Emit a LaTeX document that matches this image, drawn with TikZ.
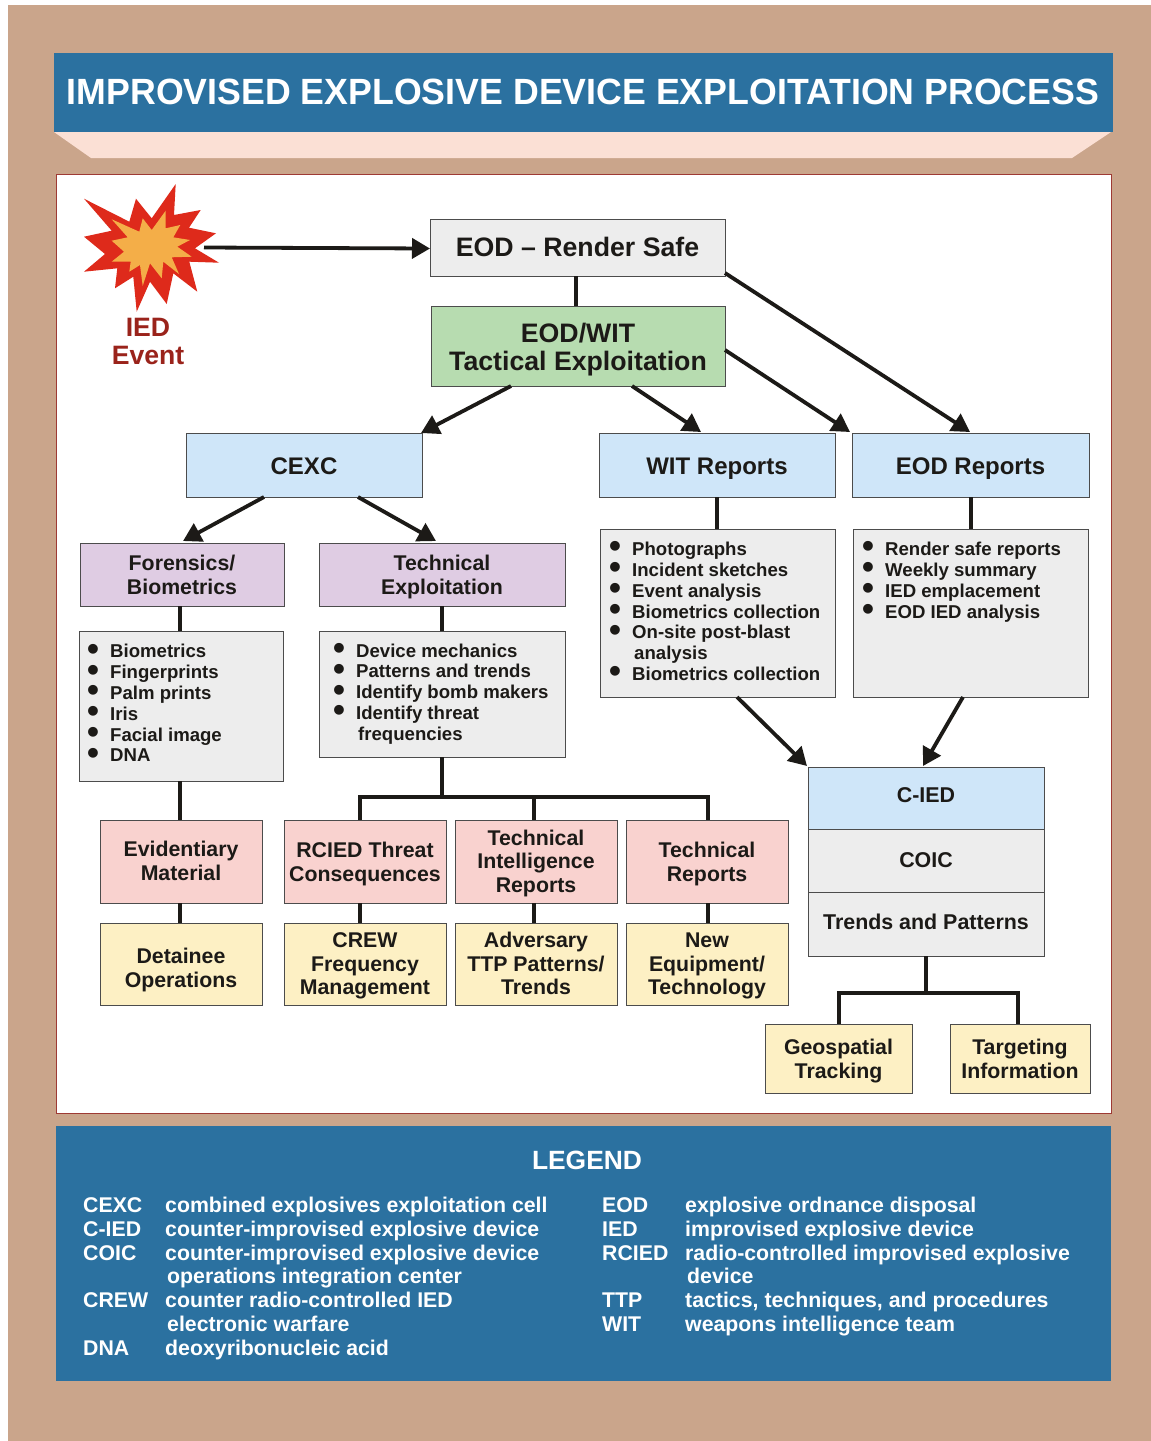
\documentclass[tikz,border=0pt]{standalone}
\usepackage{fontspec}
\setmainfont{Liberation Sans}
\usetikzlibrary{arrows.meta,calc}
\definecolor{tan}{HTML}{CAA58B}
\definecolor{band}{HTML}{2B71A0}
\definecolor{peach}{HTML}{FBE0D5}
\definecolor{frame}{HTML}{9E3A34}
\definecolor{gbox}{HTML}{EDEDED}
\definecolor{green}{HTML}{B7DCB0}
\definecolor{blue}{HTML}{CFE6F9}
\definecolor{purp}{HTML}{DFCCE3}
\definecolor{pink}{HTML}{F9D2CF}
\definecolor{yel}{HTML}{FDF0C4}
\definecolor{ink}{HTML}{1C1A17}
\definecolor{redw}{HTML}{DE2A1B}
\definecolor{oran}{HTML}{F4AE48}
\definecolor{iedt}{HTML}{9A231B}
\newcommand{\fs}[2]{\fontsize{#1pt}{#2pt}\selectfont\bfseries}
\newcommand{\bl}{\makebox[22pt][l]{\hspace*{-1pt}\smash{\raisebox{-2.3pt}{\fontsize{34pt}{34pt}\selectfont\textbullet}}}}
\tikzset{
  x=1pt,y=-1pt,
  lab/.style={font=\fs{24}{24},text=ink,align=center,inner sep=0pt},
  labs/.style={font=\fs{21.3}{23.7},text=ink,align=center,inner sep=0pt},
  labc/.style={font=\fs{21.4}{24},text=ink,align=center,inner sep=0pt},
  labb/.style={font=\fs{26.7}{28},text=ink,align=center,inner sep=0pt},
  lst/.style={font=\fs{18.6}{20.8},text=ink,align=left,inner sep=0pt,anchor=north west},
  lg/.style={font=\fs{21.3}{23.6},text=white,align=left,inner sep=0pt,anchor=base west},
  wire/.style={draw=ink,line width=3.8pt},
  arr/.style={draw=ink,line width=3.8pt,-{Triangle[length=18pt,width=20pt]}},
}
% name x0 y0 x1 y1 colour dy style text
\newcommand{\bxn}[9]{%
  \path[draw=black!70,line width=0.9pt,fill=#6] (#2,#3) rectangle (#4,#5);
  \node[#8] (#1) at ({(#2+#4)/2},{(#3+#5)/2+#7}) {\strut #9\strut};
  \coordinate (#1nw) at (#2,#3);
  \coordinate (#1se) at (#4,#5);
}
\begin{document}
\begin{tikzpicture}
\useasboundingbox (0,0) rectangle (1151,1441);
\fill[white] (0,0) rectangle (1151,1441);
\fill[tan] (8,5) rectangle (1151,1441);
\fill[peach] (54,132) -- (1111,132) -- (1072,158) -- (91,158) -- cycle;
\fill[band] (54,53) rectangle (1113,132);
\node[inner sep=0pt,text=white,font=\fs{36.5}{38}] (title) at (583,92) {\scalebox{0.978}[1]{IMPROVISED EXPLOSIVE DEVICE EXPLOITATION PROCESS}};
\path[fill=white,draw=frame,line width=1pt] (56,174) rectangle (1111,1113);
\path[fill=band] (56,1126) rectangle (1111,1381);
% burst
\fill[redw] (84,198.7)--(129.3,221.7)--(136,198.7)--(151.7,218.3)--(175.7,184)--(174,215)--(200.7,210)--(189,227.7)--(216,233.3)--(195,248.3)--(219,262.7)--(189.3,261.7)--(197.3,291.7)--(173.3,273.3)--(166.7,304)--(150,281.7)--(136.7,311.7)--(133.3,276.7)--(115,288.3)--(117.3,268.3)--(84,271.7)--(105,254)--(84,236.7)--(111.7,230.7)--cycle;
\fill[oran] (111.7,219.3)--(139.3,231.7)--(142.7,218.3)--(151.7,230)--(165.7,210.7)--(165.7,228.3)--(180.3,225)--(173.3,237.3)--(190,240)--(177.3,246.7)--(191.7,256.7)--(171.7,257.3)--(179,274)--(163.3,261.7)--(161.7,278.3)--(150,263.3)--(142.7,286)--(140,265)--(129.3,271.7)--(130.7,261.7)--(111.7,261.7)--(124,251.7)--(111.7,240.7)--(127.7,237.3)--cycle;
\node[font=\fs{26.6}{28},text=iedt,align=center,inner sep=0pt] (ied) at (148,341) {IED\\Event};
\coordinate (burstout) at (204,247.5);
% boxes
\bxn{render}{430}{219}{725}{276}{gbox}{3.6}{labb}{EOD – Render Safe}
\bxn{tact}{431}{306}{725}{386}{green}{5}{labb}{EOD/WIT\\Tactical Exploitation}
\bxn{cexc}{186}{433}{422}{497}{blue}{5}{lab}{CEXC}
\bxn{wit}{599}{433}{835}{497}{blue}{5}{lab}{WIT Reports}
\bxn{eodr}{852}{433}{1089}{497}{blue}{5}{lab}{EOD Reports}
\bxn{foren}{80}{543}{284}{606}{purp}{3}{labs}{Forensics/\\Biometrics}
\bxn{techx}{319}{543}{565}{606}{purp}{3}{labs}{Technical\\Exploitation}
\bxn{lbio}{79}{631}{283}{781}{gbox}{0}{labs}{}
\bxn{ldev}{319}{631}{565}{757}{gbox}{0}{labs}{}
\bxn{lwit}{600}{529}{835}{697}{gbox}{0}{labs}{}
\bxn{leod}{853}{529}{1088}{697}{gbox}{0}{labs}{}
\bxn{cied}{808}{767}{1044}{829}{blue}{0}{labc}{C-IED}
\bxn{coic}{808}{829}{1044}{892}{gbox}{2.5}{labc}{COIC}
\bxn{trend}{808}{892}{1044}{956}{gbox}{1}{labc}{Trends and Patterns}
\bxn{evid}{100}{820}{262}{903}{pink}{2}{labs}{Evidentiary\\Material}
\bxn{rcied}{284}{820}{446}{903}{pink}{3.5}{labs}{RCIED Threat\\Consequences}
\bxn{tir}{455}{820}{617}{903}{pink}{2.5}{labs}{Technical\\Intelligence\\Reports}
\bxn{trep}{626}{820}{788}{903}{pink}{3.5}{labs}{Technical\\Reports}
\bxn{det}{100}{923}{262}{1005}{yel}{6.5}{labs}{Detainee\\Operations}
\bxn{crew}{284}{923}{446}{1005}{yel}{2.5}{labs}{CREW\\Frequency\\Management}
\bxn{adv}{455}{923}{617}{1005}{yel}{2.5}{labs}{Adversary\\TTP Patterns/\\Trends}
\bxn{neweq}{626}{923}{788}{1005}{yel}{2.5}{labs}{New\\Equipment/\\Technology}
\bxn{geo}{765}{1024}{912}{1093}{yel}{3.5}{labs}{Geospatial\\Tracking}
\bxn{targ}{950}{1024}{1090}{1093}{yel}{3.5}{labs}{Targeting\\Information}
% lists
\node[lst] (tbio) at (88,644.3) {\bl Biometrics\\\bl Fingerprints\\\bl Palm prints\\\bl Iris\\\bl Facial image\\\bl DNA};
\node[lst] (tdev) at (334,643.5) {\bl Device mechanics\\\bl Patterns and trends\\\bl Identify bomb makers\\\bl Identify threat\\\hspace*{24pt}frequencies};
\node[lst] (twit) at (610,542) {\bl Photographs\\\bl Incident sketches\\\bl Event analysis\\\bl Biometrics collection\\\bl On-site post-blast\\\hspace*{24pt}analysis\\\bl Biometrics collection};
\node[lst] (teod) at (863,542) {\bl Render safe reports\\\bl Weekly summary\\\bl IED emplacement\\\bl EOD IED analysis};
% connectors
\coordinate (b1) at (442,797);
\coordinate (b2) at (926,993);
\draw[arr] (burstout) -- ($(rendernw)+(0,29.5)$);
\draw[wire] (576,276) -- (576,306);
\draw[arr] ($(rendernw)+(295,54)$) -- ($(eodrnw)+(118,-1)$);
\draw[arr] ($(tactnw)+(294,44)$) -- ($(eodrnw)+(-2,-1)$);
\draw[arr] ($(tactnw)+(201,80)$) -- ($(witnw)+(102,-1)$);
\draw[arr] ($(tactnw)+(80,80)$) -- ($(cexcnw)+(235,0)$);
\draw[arr] ($(cexcnw)+(78,64)$) -- ($(forennw)+(103,-2)$);
\draw[arr] ($(cexcnw)+(172,64)$) -- ($(techxnw)+(117,-2)$);
\draw[wire] (717,497) -- (717,529);
\draw[wire] (971,497) -- (971,529);
\draw[arr] ($(lwitnw)+(137,168)$) -- ($(ciednw)+(-1,-1)$);
\draw[arr] ($(leodnw)+(110,168)$) -- ($(ciednw)+(115,-1)$);
\draw[wire] (180,606) -- (180,631);
\draw[wire] (442,606) -- (442,631);
\draw[wire] (180,781) -- (180,820);
\draw[wire] (180,903) -- (180,923);
\draw[wire] (442,757) -- (b1);
\draw[wire] (360,820) |- (708,797) -- (708,820);
\draw[wire] (534,797) -- (534,820);
\draw[wire] (360,903) -- (360,923);
\draw[wire] (534,903) -- (534,923);
\draw[wire] (708,903) -- (708,923);
\draw[wire] (926,956) -- (b2);
\draw[wire] (839,1024) |- (1018,993) -- (1018,1024);
% legend
\node[font=\fs{26.4}{28},text=white,inner sep=0pt] (lgh) at (587,1160) {LEGEND};
\node[lg] (a1) at (83,1212) {CEXC};
\node[lg] (a2) at (83,1236) {C-IED};
\node[lg] (a3) at (83,1260) {COIC};
\node[lg] (a4) at (83,1307) {CREW};
\node[lg] (a5) at (83,1355) {DNA};
\node[lg] (d1) at (165,1212) {combined explosives exploitation cell};
\node[lg] (d2) at (165,1236) {counter-improvised explosive device};
\node[lg] (d3) at (165,1260) {counter-improvised explosive device};
\node[lg] (d3b) at (167,1283) {operations integration center};
\node[lg] (d4) at (165,1307) {counter radio-controlled IED};
\node[lg] (d4b) at (167,1331) {electronic warfare};
\node[lg] (d5) at (165,1355) {deoxyribonucleic acid};
\node[lg] (e1) at (602,1212) {EOD};
\node[lg] (e2) at (602,1236) {IED};
\node[lg] (e3) at (602,1260) {RCIED};
\node[lg] (e4) at (602,1307) {TTP};
\node[lg] (e5) at (602,1331) {WIT};
\node[lg] (f1) at (685,1212) {explosive ordnance disposal};
\node[lg] (f2) at (685,1236) {improvised explosive device};
\node[lg] (f3) at (685,1260) {radio-controlled improvised explosive};
\node[lg] (f3b) at (687,1283) {device};
\node[lg] (f4) at (685,1307) {tactics, techniques, and procedures};
\node[lg] (f5) at (685,1331) {weapons intelligence team};
\end{tikzpicture}
\end{document}
